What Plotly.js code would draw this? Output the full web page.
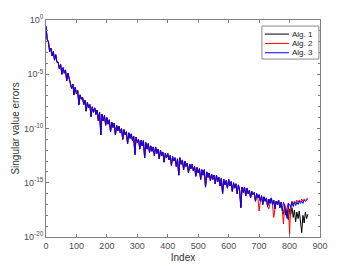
<!DOCTYPE html>
<html><head><meta charset="utf-8">
<script src="https://cdn.plot.ly/plotly-3.0.1.min.js"></script>
<style>html,body{margin:0;padding:0;background:#fff}#chart{width:354px;height:266px}</style>
</head><body><div id="chart"></div>
<script>
// Index step between sampled points
const indexStep = 4;
// log10 of singular value error, shared by all three algorithms for index 0..696
const sharedHeadLog = [
 -0.6,-1.8,-2.0,-2.9,-2.6,-3.3,-2.9,-3.7,-3.2,-3.9,
 -3.9,-4.5,-4.1,-5.0,-4.4,-4.9,-4.6,-5.6,-4.9,-5.4,
 -5.6,-6.3,-5.9,-6.9,-6.2,-6.8,-6.5,-7.8,-6.9,-7.3,
 -7.1,-7.8,-7.4,-8.4,-7.6,-8.1,-7.8,-8.9,-8.0,-8.5,
 -8.1,-8.7,-8.3,-9.3,-8.5,-10.6,-8.7,-9.3,-8.8,-9.7,
 -9.0,-9.6,-9.2,-10.3,-9.4,-9.9,-9.5,-10.6,-9.7,-10.2,
 -9.8,-10.4,-10.0,-11.0,-10.1,-10.6,-10.3,-11.4,-10.4,-10.9,
 -10.5,-11.1,-10.7,-12.4,-10.8,-11.3,-11.0,-11.9,-11.1,-11.6,
 -11.1,-12.7,-11.3,-11.9,-11.4,-12.2,-11.6,-12.1,-11.7,-12.5,
 -11.7,-12.3,-11.9,-12.8,-12.0,-12.5,-12.2,-13.1,-12.3,-12.7,
 -12.3,-12.9,-12.5,-13.4,-12.6,-13.0,-12.7,-13.5,-12.8,-14.3,
 -12.7,-13.3,-12.9,-13.8,-13.0,-13.5,-13.2,-14.1,-13.3,-13.7,
 -13.3,-13.9,-13.5,-14.4,-13.6,-14.1,-13.7,-14.7,-13.8,-14.3,
 -13.8,-15.4,-14.0,-14.5,-14.1,-14.8,-14.2,-14.7,-14.3,-15.1,
 -14.3,-14.9,-14.5,-15.3,-14.6,-16.0,-14.7,-15.2,-14.8,-15.5,
 -14.7,-15.3,-14.9,-15.8,-15.0,-15.5,-15.1,-16.0,-15.2,-15.7,
 -17.3,-15.4,-15.9,-15.4,-16.2,-15.5,-16.0,-15.7,-16.4,-15.8,
 -16.1,-15.9,-16.7,-16.0,-16.4
];
// log10 errors for index 700..860, per algorithm
const tailAlg1Log = [
 -16.1,-16.7,-16.2,-17.0,-16.3,-16.7,-16.4,-17.2,-16.5,-16.9,
 -16.4,-17.0,-16.6,-17.4,-16.7,-17.0,-16.6,-17.3,-16.8,-17.3,
 -17.9,-17.2,-18.0,-17.5,-18.4,-17.4,-17.9,-17.3,-18.2,-17.5,
 -18.6,-17.7,-18.3,-17.6,-19.0,-19.6,-18.0,-18.7,-17.7,-18.3,-17.9
];
const tailAlg2Log = [
 -17.6,-16.7,-16.2,-17.0,-16.3,-16.7,-16.4,-17.2,-17.4,-16.9,
 -16.4,-17.0,-18.2,-17.4,-16.7,-17.0,-16.6,-17.3,-16.8,-17.5,
 -18.8,-17.0,-17.6,-17.3,-16.9,-19.75,-17.1,-16.7,-17.0,-16.7,
 -16.9,-16.6,-16.8,-16.6,-16.8,-16.5,-16.7,-16.5,-16.6,-16.5,-16.4
];
const tailAlg3Log = [
 -16.1,-16.7,-16.2,-17.0,-16.3,-16.7,-16.4,-17.2,-16.5,-16.9,
 -16.4,-17.0,-16.6,-17.4,-16.7,-17.0,-16.6,-17.3,-16.8,-17.6,
 -16.8,-17.1,-17.6,-18.3,-16.9,-17.0,-17.3,-16.8,-17.2,-16.8,
 -17.1,-16.8,-17.0,-16.7,-16.9,-16.7,-16.9,-16.6,-16.7,-16.6,-16.5
];
const seriesNames = ['Alg. 1','Alg. 2','Alg. 3'];
const seriesColors = ['#000000','#ff0000','#0000ff'];
const xTicks = [0,100,200,300,400,500,600,700,800,900];
const yTickExps = [0,-5,-10,-15,-20];

const tails = [tailAlg1Log, tailAlg2Log, tailAlg3Log];
const traces = tails.map((tail, k) => {
  const logs = sharedHeadLog.concat(tail);
  return {
    x: logs.map((_, i) => i * indexStep),
    y: logs.map(v => Math.pow(10, v)),
    type: 'scatter', mode: 'lines', name: seriesNames[k], showlegend: false,
    line: {color: seriesColors[k], width: 1}
  };
});
const minorVals = [];
for (let e = -20; e <= 0; e++) minorVals.push(Math.pow(10, e));

// custom legend (paper coordinates)
const legBox = {x0: 0.788, x1: 0.996, y0: 0.820, y1: 0.972};
const legRows = [0.935, 0.892, 0.849];
const shapes = [{type: 'rect', xref: 'paper', yref: 'paper', x0: legBox.x0, x1: legBox.x1,
  y0: legBox.y0, y1: legBox.y1, fillcolor: '#fff', line: {color: '#888', width: 1}}];
const annotations = [];
seriesNames.forEach((n, k) => {
  shapes.push({type: 'line', xref: 'paper', yref: 'paper', x0: 0.799, x1: 0.887,
    y0: legRows[k], y1: legRows[k], line: {color: seriesColors[k], width: 1}});
  annotations.push({xref: 'paper', yref: 'paper', x: 0.892, y: legRows[k], xanchor: 'left',
    yanchor: 'middle', text: n, showarrow: false,
    font: {family: 'Liberation Sans, Arial, sans-serif', size: 8, color: '#222'}});
});

const axisCommon = {
  showline: true, mirror: 'allticks', linecolor: '#808080', linewidth: 1,
  ticks: 'inside', ticklen: 3, tickcolor: '#808080', showgrid: false, zeroline: false,
  tickfont: {family: 'Liberation Sans, Arial, sans-serif', size: 9, color: '#4d4d4d'}
};
const layout = {
  width: 354, height: 266,
  margin: {l: 46, r: 34, t: 20, b: 29},
  paper_bgcolor: '#fff', plot_bgcolor: '#fff',
  font: {family: 'Liberation Sans, Arial, sans-serif', color: '#333'},
  showlegend: false,
  shapes: shapes, annotations: annotations,
  xaxis: Object.assign({}, axisCommon, {
    range: [0, 900], tickmode: 'array', tickvals: xTicks, ticktext: xTicks.map(String),
    title: {text: 'Index', font: {size: 10, color: '#333'}, standoff: 4}
  }),
  yaxis: Object.assign({}, axisCommon, {
    type: 'log', range: [-20, 0], tickmode: 'array',
    tickvals: yTickExps.map(e => Math.pow(10, e)),
    ticktext: yTickExps.map(e => '10<sup>' + e + '</sup>'),
    minor: {tickmode: 'array', tickvals: minorVals, ticks: 'inside', ticklen: 2, tickcolor: '#808080'},
    title: {text: 'Singular value errors', font: {size: 10, color: '#333'}, standoff: 2}
  })
};
Plotly.newPlot('chart', traces, layout, {staticPlot: true, displayModeBar: false});
</script></body></html>
